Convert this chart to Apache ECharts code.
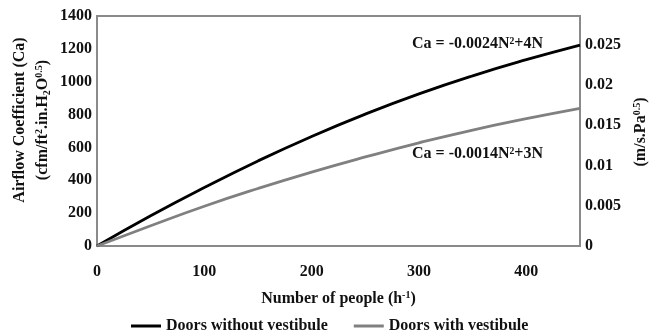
<!DOCTYPE html>
<html>
<head>
<meta charset="utf-8">
<script src="https://cdn.jsdelivr.net/npm/echarts@6/dist/echarts.min.js"></script>
<style>html,body{margin:0;padding:0;background:#fff;}#c{width:649px;height:330px;}</style>
</head>
<body>
<div id="c"></div>
<script>
var people = [0, 50, 100, 150, 200, 250, 300, 350, 400, 450];
var withoutVestibule = [0, 184, 356, 518, 667, 803, 926, 1036, 1134, 1223];
var withVestibule = [0, 123, 242, 350, 450, 542, 628, 706, 775, 838];
var seriesNames = ['Doors without vestibule', 'Doors with vestibule'];
var leftTicks = [0, 200, 400, 600, 800, 1000, 1200, 1400];
var rightTicks = [0, 0.005, 0.01, 0.015, 0.02, 0.025];
var xTicks = [0, 100, 200, 300, 400];
var eqLabels = ['Ca = -0.0024N\u00b2+4N', 'Ca = -0.0014N\u00b2+3N'];

var FONT = '"Liberation Serif", "Times New Roman", serif';
var chart = echarts.init(document.getElementById('c'));
function pairs(xs, ys) { return xs.map(function (x, i) { return [x, ys[i]]; }); }
var axisLineStyle = { show: true, lineStyle: { color: '#8a8a8a', width: 2 } };
var lblStyle = { color: '#111', fontFamily: FONT, fontWeight: 'bold', fontSize: 16 };

var option = {
  animation: false,
  backgroundColor: '#fff',
  grid: { left: 97, right: 69, top: 16, bottom: 84, show: true, borderColor: '#8a8a8a', borderWidth: 2 },
  xAxis: {
    type: 'value', min: 0, max: 450, interval: 100,
    axisLine: axisLineStyle, axisTick: { show: false }, splitLine: { show: false },
    axisLabel: Object.assign({ margin: 18, formatter: function (v) { return xTicks.indexOf(v) >= 0 ? String(v) : ''; } }, lblStyle),
    name: 'Number of people (h{sup|-1})', nameLocation: 'middle', nameGap: 44,
    nameTextStyle: Object.assign({ rich: { sup: { fontFamily: FONT, fontWeight: 'bold', fontSize: 10, verticalAlign: 'top', padding: [0, 0, 8, 0], color: '#111' } } }, lblStyle)
  },
  yAxis: [{
    type: 'value', min: 0, max: 1400, interval: 200,
    axisLine: axisLineStyle, axisTick: { show: false }, splitLine: { show: false },
    axisLabel: Object.assign({ margin: 5, formatter: function (v) { return leftTicks.indexOf(v) >= 0 ? String(v) : ''; } }, lblStyle)
  }, {
    type: 'value', min: 0, max: 0.028571, interval: 0.005, position: 'right',
    axisLine: axisLineStyle, axisTick: { show: false }, splitLine: { show: false },
    axisLabel: Object.assign({ margin: 5, formatter: function (v) {
      for (var i = 0; i < rightTicks.length; i++) { if (Math.abs(v - rightTicks[i]) < 1e-9) return String(rightTicks[i]); }
      return '';
    } }, lblStyle)
  }],
  legend: {
    top: 313, left: 126, icon: 'rect', itemWidth: 30, itemHeight: 3, itemGap: 26,
    textStyle: lblStyle, data: seriesNames
  },
  series: [{
    name: seriesNames[0], type: 'line', smooth: true, showSymbol: false, symbol: 'none',
    lineStyle: { color: '#000', width: 2.8 }, itemStyle: { color: '#000' },
    data: pairs(people, withoutVestibule)
  }, {
    name: seriesNames[1], type: 'line', smooth: true, showSymbol: false, symbol: 'none',
    lineStyle: { color: '#808080', width: 2.8 }, itemStyle: { color: '#808080' },
    data: pairs(people, withVestibule)
  }],
  graphic: [
    { type: 'text', left: 412, top: 36, style: { text: eqLabels[0], fill: '#111', font: 'bold 16px ' + FONT } },
    { type: 'text', left: 412, top: 146, style: { text: eqLabels[1], fill: '#111', font: 'bold 16px ' + FONT } },
    { type: 'text', x: 20, y: 120, rotation: Math.PI / 2,
      style: { text: 'Airflow Coefficient (Ca)', fill: '#111', font: 'bold 16px ' + FONT, align: 'center', verticalAlign: 'middle' } },
    { type: 'text', x: 43, y: 120, rotation: Math.PI / 2,
      style: { text: '(cfm/ft{sup|2}.in.H{sub|2}O{sup|0.5})', fill: '#111', font: 'bold 16px ' + FONT, align: 'center', verticalAlign: 'middle',
        rich: {
          sup: { fontFamily: FONT, fontWeight: 'bold', fontSize: 10, verticalAlign: 'top', padding: [0, 0, 8, 0], fill: '#111' },
          sub: { fontFamily: FONT, fontWeight: 'bold', fontSize: 10, verticalAlign: 'bottom', padding: [8, 0, 0, 0], fill: '#111' }
        } } },
    { type: 'text', x: 641, y: 132, rotation: Math.PI / 2,
      style: { text: '(m/s.Pa{sup|0.5})', fill: '#111', font: 'bold 16px ' + FONT, align: 'center', verticalAlign: 'middle',
        rich: { sup: { fontFamily: FONT, fontWeight: 'bold', fontSize: 10, verticalAlign: 'top', padding: [0, 0, 8, 0], fill: '#111' } } } }
  ]
};
chart.setOption(option);
</script>
</body>
</html>
